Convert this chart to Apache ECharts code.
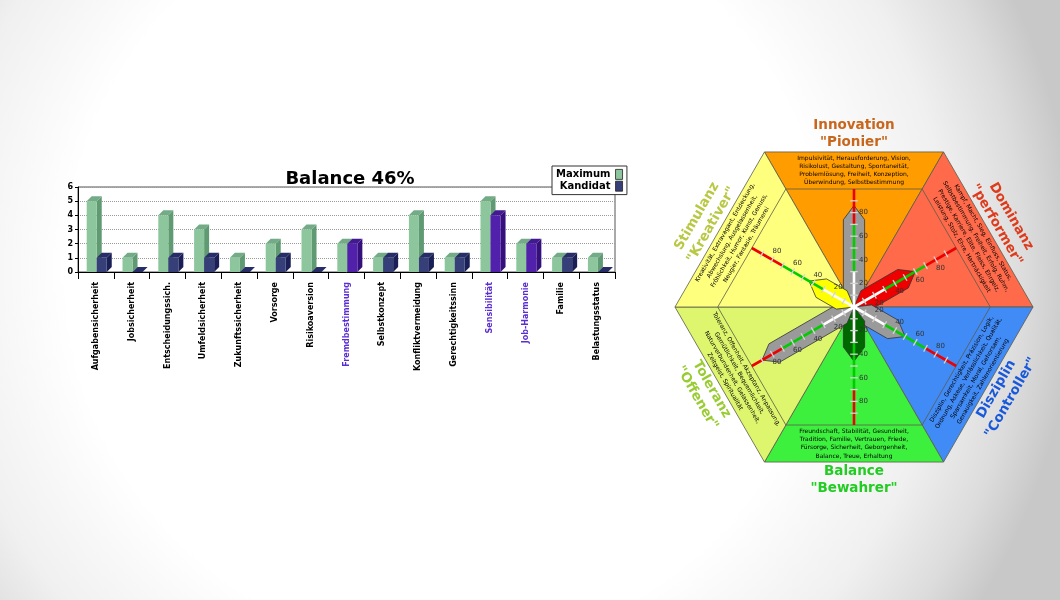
<!DOCTYPE html>
<html>
<head>
<meta charset="utf-8">
<script src="https://cdn.jsdelivr.net/npm/echarts@6/dist/echarts.min.js"></script>
<style>
html,body{margin:0;padding:0;width:1060px;height:600px;overflow:hidden;background:#fff}
#c{width:1060px;height:600px}
</style>
</head>
<body>
<div id="c"></div>
<script>
// ---------- bar chart data ----------
const categories = ['Aufgabensicherheit','Jobsicherheit','Entscheidungssich.','Umfeldsicherheit','Zukunftssicherheit','Vorsorge','Risikoaversion','Fremdbestimmung','Selbstkonzept','Konfliktvermeidung','Gerechtigkeitssinn','Sensibilität','Job-Harmonie','Familie','Belastungsstatus'];
const maximumValues = [5,1,4,3,1,2,3,2,1,4,1,5,2,1,1];
const kandidatValues = [1,0,1,1,0,1,0,2,1,1,1,4,2,1,0];
const highlightedCategories = ['Fremdbestimmung','Sensibilität','Job-Harmonie'];
const seriesNames = ['Maximum','Kandidat'];
const chartTitle = 'Balance 46%';
const yMin = 0, yMax = 6, yStep = 1;

// ---------- hexagon data ----------
const sectorNames = ['Innovation','Dominanz','Disziplin','Balance','Toleranz','Stimulanz'];
const sectorRoles = ['"Pionier"','"performer"','"Controller"','"Bewahrer"','"Offener"','"Kreativer"'];
const sectorScores = [86,60,50,46,90,44];
const sectorKeywords = [
 'Impulsivität, Herausforderung, Vision,\nRisikolust, Gestaltung, Spontaneität,\nProblemlösung, Freiheit, Konzeption,\nÜberwindung, Selbstbestimmung',
 'Kampf, Macht, Sieg, Einfluss, Status,\nSelbstbestimmung, Freiheit, Erfolg, Ruhm,\nPrestige, Karriere, Elite, Fleiss, Ehrgeiz,\nLeistung, Stolz, Ehre, Hartnäckigkeit',
 'Disziplin, Gerechtigkeit, Präzision, Logik,\nOrdnung, Askese, Verlässlichkeit, Qualität,\nSparsamkeit, Moral, Gehorsam,\nGenauigkeit, Zahlenorientierung',
 'Freundschaft, Stabilität, Gesundheit,\nTradition, Familie, Vertrauen, Friede,\nFürsorge, Sicherheit, Geborgenheit,\nBalance, Treue, Erhaltung',
 'Toleranz, Offenheit, Akzeptanz, Anpassung,\nGemütlichkeit, Bequemlichkeit,\nNaturverbundenheit, Gelassenheit,\nZeitgeist, Spiritualität',
 'Kreativität, Extravagant, Entdeckung,\nAbwechslung, Ausgelassenheit,\nFröhlichkeit, Humor, Kunst, Genuss,\nNeugier, Fantasie, Träumerei'
];
const scaleLabels = [20,40,60,80];
const scaleTicks = [10,20,30,40,50,60,70,80,90];
const zoneBreaks = [0,30,70,100];

// ---------- styles ----------
const FONT = 'DejaVu Sans';
const sectorFills = ['#FF9C00','#FF6A4A','#418BF7','#3EF03E','#DEF56E','#FFFF7E'];
const sectorTitleColors = ['#C8661C','#DD3B1B','#1858DA','#22CC22','#99CC33','#B8C842'];
const scoreFills = ['#9A9A9A','#EE0000','#9A9A9A','#006600','#9A9A9A','#FFFF00'];
const zoneColors = ['#FFFFFF','#00CC00','#EE0000'];
const PAL_MAX = {front:'#8DC69D', side:'#5F9A72', top:'#72AB86'};
const PAL_NAVY = {front:'#363F78', side:'#1A2055', top:'#272E67'};
const PAL_PURPLE = {front:'#5221AC', side:'#35107C', top:'#431991'};

const OUTER = 131.4, INNER = 100, TEXT_R = 115.8, TITLE_R = 146.5;
const RAD = Math.PI/180;

function bar3d(slot, paletteFor) {
  return function (params, api) {
    const i = api.value(0), v = api.value(1);
    const band = api.size([1, 0])[0];
    const base = api.coord([i, 0]), top = api.coord([i, v]);
    const w = band * 0.28, d = 5;
    const x0 = base[0] - band / 2 + band * 0.243 + slot * w;
    const x1 = x0 + w;
    const yb = base[1], yt = top[1];
    const pal = paletteFor(i);
    return {type:'group', children:[
      {type:'polygon', shape:{points:[[x1,yb],[x1+d,yb-d],[x1+d,yt-d],[x1,yt]]}, style:{fill:pal.side}},
      {type:'polygon', shape:{points:[[x0,yt],[x0+d,yt-d],[x1+d,yt-d],[x1,yt]]}, style:{fill:pal.top}},
      {type:'rect', shape:{x:x0,y:yt,width:w,height:Math.max(yb-yt,0)}, style:{fill:pal.front}}
    ]};
  };
}

function midAngle(i){ return (90 - 60*i) * RAD; }
function textRot(i){ const m = midAngle(i); return Math.sin(m) > 0.01 ? m - Math.PI/2 : m + Math.PI/2; }
function P(api, r, a){ return api.coord([r*Math.cos(a), r*Math.sin(a)]); }
function PL(api, along, perp, m){
  const ux = Math.cos(m), uy = Math.sin(m), nx = -Math.sin(m), ny = Math.cos(m);
  return api.coord([along*ux + perp*nx, along*uy + perp*ny]);
}

function renderSector(params, api) {
  const i = params.dataIndex, m = midAngle(i);
  const Ro = OUTER / Math.cos(30*RAD), Ri = INNER / Math.cos(30*RAD);
  const c = P(api, 0, 0), tp = P(api, TEXT_R, m), tt = P(api, TITLE_R, m);
  const a = P(api, Ri, m-30*RAD), b = P(api, Ri, m+30*RAD);
  const rot = textRot(i);
  return {type:'group', children:[
    {type:'polygon', shape:{points:[c, P(api, Ro, m-30*RAD), P(api, Ro, m+30*RAD)]},
      style:{fill:sectorFills[i], stroke:'#5a5a4a', lineWidth:0.8}},
    {type:'line', shape:{x1:a[0], y1:a[1], x2:b[0], y2:b[1]}, style:{stroke:'#5a5a4a', lineWidth:0.8}},
    {type:'text', x:tp[0], y:tp[1], rotation:rot,
      style:{text:sectorKeywords[i], fill:'#000', fontSize:6, fontFamily:FONT, lineHeight:8.2, align:'center', verticalAlign:'middle'}},
    {type:'text', x:tt[0], y:tt[1], rotation:rot,
      style:{text:sectorNames[i] + '\n' + sectorRoles[i], fill:sectorTitleColors[i], fontSize:13.5, fontWeight:'bold', fontFamily:FONT, lineHeight:17, align:'center', verticalAlign:'middle'}}
  ]};
}

function renderScore(params, api) {
  const i = params.dataIndex, m = midAngle(i), v = api.value(1);
  const hw = 9, s1 = 12, s2 = 12;
  const pts = [PL(api,0,0,m), PL(api,s1,hw,m), PL(api,v-s2,hw,m), PL(api,v,0,m), PL(api,v-s2,-hw,m), PL(api,s1,-hw,m)];
  return {type:'polygon', shape:{points:pts}, style:{fill:scoreFills[i], stroke:'#333', lineWidth:0.8}};
}

function renderScale(params, api) {
  const i = params.dataIndex, m = midAngle(i);
  const children = [];
  for (let k = 0; k < zoneBreaks.length - 1; k++) {
    const a = PL(api, zoneBreaks[k], 0, m), b = PL(api, zoneBreaks[k+1], 0, m);
    children.push({type:'line', shape:{x1:a[0],y1:a[1],x2:b[0],y2:b[1]}, style:{stroke:zoneColors[k], lineWidth:2.6}});
  }
  scaleTicks.forEach(t => {
    const a = PL(api, t, 3.2, m), b = PL(api, t, -3.2, m);
    children.push({type:'line', shape:{x1:a[0],y1:a[1],x2:b[0],y2:b[1]}, style:{stroke:'#d4d4d4', lineWidth:1.3}});
  });
  const sgn = -Math.sin(m) < -0.01 ? -1 : 1; // rightward perpendicular
  scaleLabels.forEach(t => {
    const p = PL(api, t, 8 * sgn, m);
    children.push({type:'text', x:p[0], y:p[1], style:{text:String(t), fill:'#333', fontSize:7, fontFamily:FONT, align:'center', verticalAlign:'middle'}});
  });
  return {type:'group', children};
}

const hexData = sectorScores.map((s, i) => [i, s]);

const chart = echarts.init(document.getElementById('c'), null, {renderer:'canvas'});
chart.setOption({
  animation: false,
  backgroundColor: {type:'radial', x:0.42, y:0.45, r:1.05, colorStops:[
    {offset:0, color:'#ffffff'}, {offset:0.6, color:'#ffffff'}, {offset:0.8, color:'#f0f0f0'}, {offset:0.92, color:'#dcdcdc'}, {offset:1, color:'#c8c8c8'}]},
  title: {text: chartTitle, left: 345, top: 165, textAlign: 'center',
    textStyle: {fontFamily: FONT, fontWeight: 'bold', fontSize: 18, color: '#000'}},
  legend: {
    data: seriesNames, orient: 'vertical', align: 'right', left: 552, top: 166,
    padding: [3, 4, 3, 4], itemGap: 1, itemWidth: 7, itemHeight: 10, icon: 'rect',
    backgroundColor: '#fff', borderColor: '#333', borderWidth: 1,
    itemStyle: {borderColor: '#222', borderWidth: 0.8},
    textStyle: {fontFamily: FONT, fontWeight: 'bold', fontSize: 10, color: '#000'}
  },
  grid: [
    {left: 78, top: 187, width: 537, height: 85, show: true, borderColor: '#555', borderWidth: 1, backgroundColor: 'transparent'},
    {left: 665.2, top: 141.8, width: 377.6, height: 330.4, show: false}
  ],
  xAxis: [
    {type: 'category', gridIndex: 0, data: categories,
      axisLine: {lineStyle: {color: '#000', width: 1}},
      axisTick: {show: true, length: 7, lineStyle: {color: '#000'}},
      axisLabel: {rotate: 90, margin: 10, interval: 0, fontFamily: FONT, fontWeight: 'bold', fontSize: 8,
        color: (val) => highlightedCategories.includes(val) ? '#5A2ED0' : '#000'},
      splitLine: {show: false}},
    {type: 'value', gridIndex: 1, min: -160, max: 160, show: false}
  ],
  yAxis: [
    {type: 'value', gridIndex: 0, min: yMin, max: yMax, interval: yStep,
      axisLine: {show: true, lineStyle: {color: '#000'}},
      axisTick: {show: true, length: 3, lineStyle: {color: '#000'}},
      axisLabel: {fontFamily: FONT, fontWeight: 'bold', fontSize: 8, color: '#000', margin: 5},
      splitLine: {show: true, lineStyle: {type: 'dotted', color: '#9a9a9a', width: 1}}},
    {type: 'value', gridIndex: 1, min: -140, max: 140, show: false}
  ],
  series: [
    {name: seriesNames[0], type: 'custom', xAxisIndex: 0, yAxisIndex: 0, itemStyle: {color: PAL_MAX.front},
      renderItem: bar3d(0, () => PAL_MAX), data: maximumValues.map((v, i) => [i, v]), encode: {x: 0, y: 1}, z: 3},
    {name: seriesNames[1], type: 'custom', xAxisIndex: 0, yAxisIndex: 0, itemStyle: {color: PAL_NAVY.front},
      renderItem: bar3d(1, (i) => highlightedCategories.includes(categories[i]) ? PAL_PURPLE : PAL_NAVY),
      data: kandidatValues.map((v, i) => [i, v]), encode: {x: 0, y: 1}, z: 4},
    {type: 'custom', xAxisIndex: 1, yAxisIndex: 1, renderItem: renderSector, data: hexData, z: 2, silent: true},
    {type: 'custom', xAxisIndex: 1, yAxisIndex: 1, renderItem: renderScore, data: hexData, z: 3, silent: true},
    {type: 'custom', xAxisIndex: 1, yAxisIndex: 1, renderItem: renderScale, data: hexData, z: 4, silent: true}
  ]
});
</script>
</body>
</html>
